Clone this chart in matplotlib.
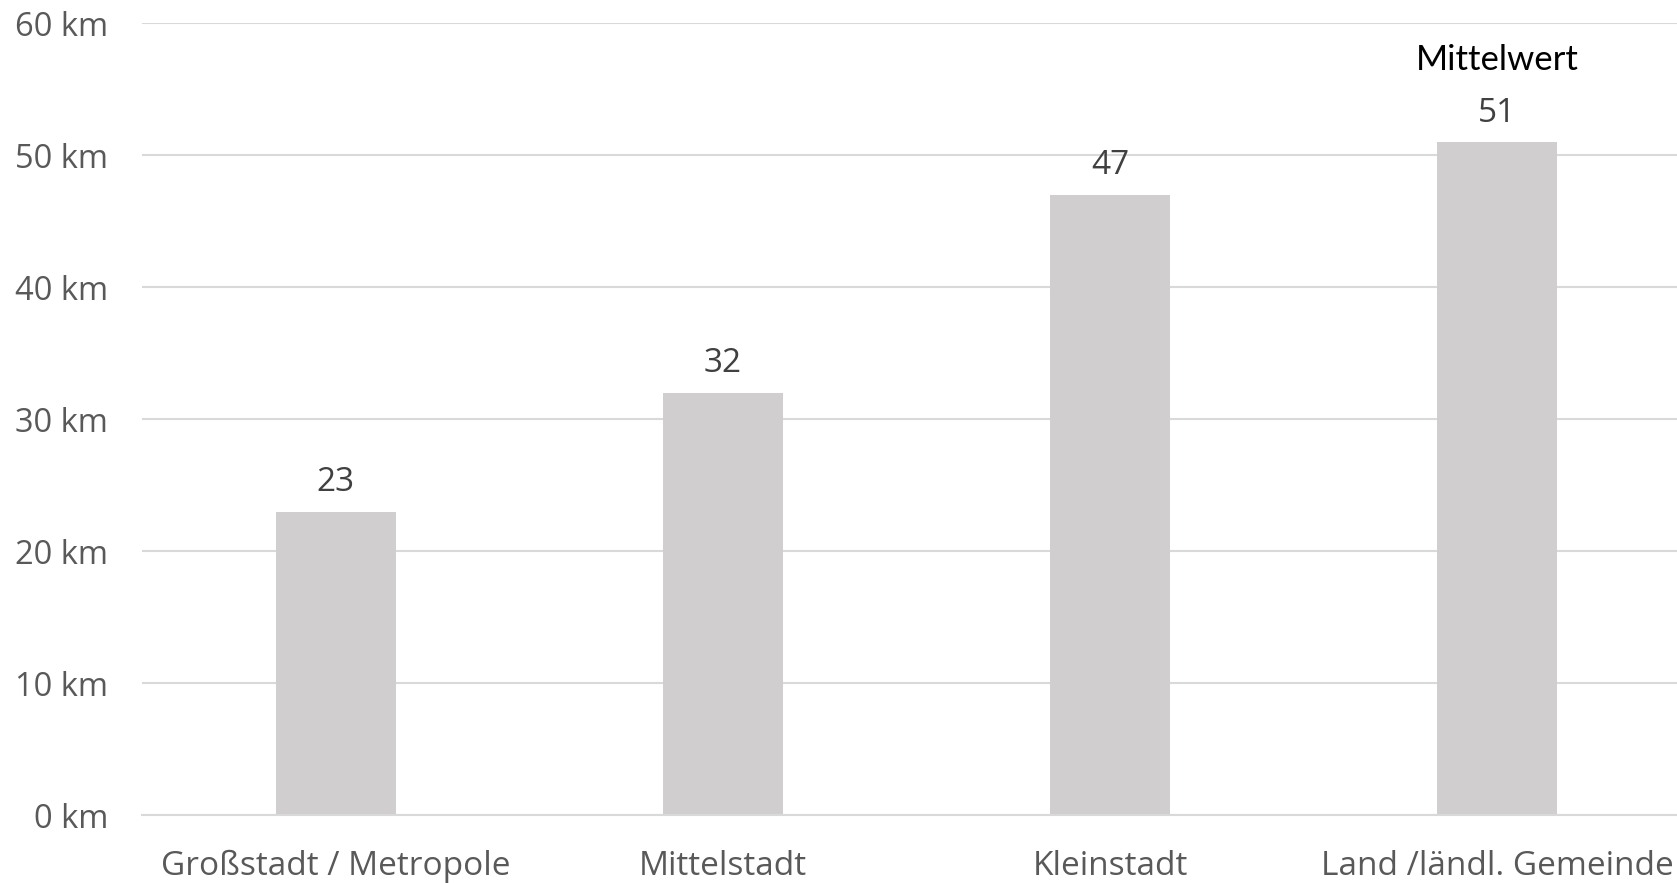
import matplotlib
matplotlib.use('Agg')
import matplotlib.pyplot as plt

# data
categories = ['Großstadt / Metropole', 'Mittelstadt', 'Kleinstadt', 'Land /ländl. Gemeinde']
values = [23, 32, 47, 51]
yticks = [0, 10, 20, 30, 40, 50, 60]
ytick_labels = ['0 km', '10 km', '20 km', '30 km', '40 km', '50 km', '60 km']

plt.rcParams['font.family'] = ['Open Sans', 'DejaVu Sans']

fig = plt.figure(figsize=(16.77, 8.83), dpi=100)
ax = fig.add_axes([0.0847, 0.077, 0.9237, 0.8964])

x = range(len(categories))
ax.bar(x, values, width=0.31, color='#D0CECE', zorder=2)

for i, v in enumerate(values):
    ax.annotate(str(v), (i, v), xytext=(0, 9), textcoords='offset points',
                ha='center', va='bottom', fontsize=24, color='#404040')

# label over the last bar
ax.annotate('Mittelwert', (3, values[3]), xytext=(0, 48), textcoords='offset points',
            ha='center', va='bottom', fontsize=25, color='black', family=['Lato', 'DejaVu Sans'])

ax.set_xlim(-0.5, 3.5)
ax.set_ylim(0, 60)
ax.set_yticks(yticks)
ax.set_yticklabels(ytick_labels)
ax.set_xticks(list(x))
ax.set_xticklabels(categories)
ax.tick_params(axis='y', length=0, labelsize=23.5, labelcolor='#595959', pad=24.5)
ax.tick_params(axis='x', length=0, labelsize=24, labelcolor='#595959', pad=25)

ax.grid(axis='y', color='#D9D9D9', linewidth=1.5, zorder=0)
for s in ['top', 'right', 'left']:
    ax.spines[s].set_visible(False)
ax.spines['bottom'].set_color('#D9D9D9')
ax.spines['bottom'].set_linewidth(1.5)

fig.savefig('out.png', dpi=100)
